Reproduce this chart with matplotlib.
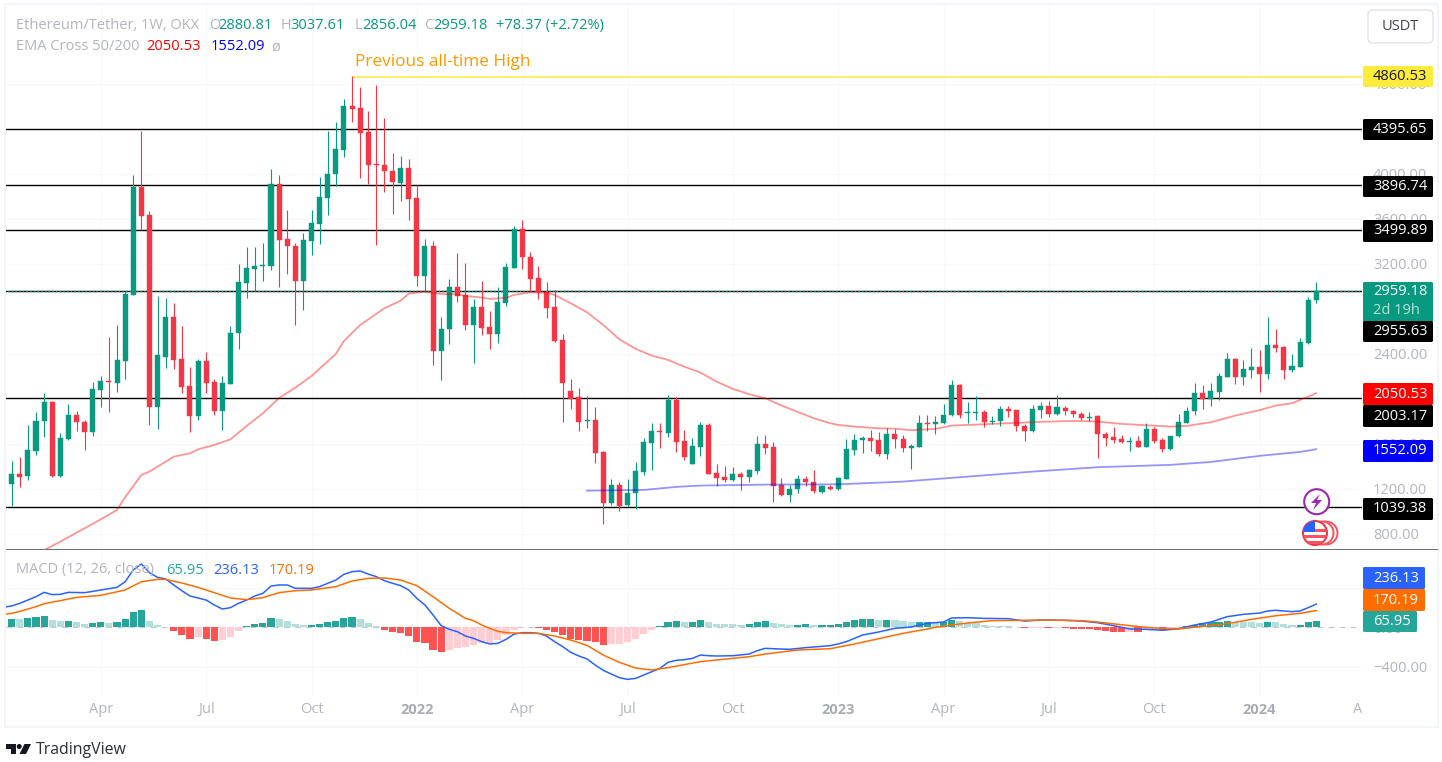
import numpy as np
from matplotlib import pyplot as plt
from matplotlib.patches import Circle, FancyBboxPatch, Polygon, Rectangle
from matplotlib.transforms import Affine2D, Bbox, TransformedBbox

plt.rcParams['font.family'] = ['Open Sans', 'DejaVu Sans']

# --- Weekly candles ---
opens = [
    1243,1329,1317,1539,1803,1969,1314,1646,1859,1797,
    1708,2079,2156,2144,2339,2926,3883,3631,1924,2375,
    2725,2354,2111,1845,2336,2150,1889,2132,2582,3033,
    3157,3184,3184,3913,3418,3362,3050,3403,3557,3788,
    3996,4212,4603,4585,4372,4085,4076,4028,3922,4055,
    3785,3095,3356,2428,2618,2994,2921,2657,2814,2636,
    2574,2855,3167,3507,3261,3072,2953,2814,2524,2067,
    2014,1801,1812,1528,1072,1232,1054,1161,1350,1611,
    1715,1700,1987,1626,1421,1572,1768,1338,1303,1276,
    1329,1303,1359,1596,1569,1235,1143,1196,1285,1264,
    1175,1220,1196,1288,1546,1632,1652,1635,1510,1691,
    1644,1567,1576,1789,1774,1789,1854,2121,1872,1872,
    1881,1795,1801,1913,1899,1759,1715,1902,1940,1863,
    1919,1896,1869,1827,1845,1691,1662,1644,1620,1626,
    1576,1736,1635,1552,1667,1789,1890,2050,2002,2062,
    2198,2358,2195,2260,2281,2225,2482,2465,2257,2284,
    2500,2880.81]
highs = [
    1448,1486,1767,1880,2049,1978,1699,1951,1895,1815,
    2150,2203,2553,2653,2962,3987,4381,3670,2914,2896,
    2852,2645,2283,2354,2419,2173,2203,2645,3196,3347,
    3347,3382,4040,3987,3679,3382,3471,3679,3975,4381,
    4461,4668,4868,4775,4562,4787,4499,4182,4156,4129,
    3904,3418,3400,2728,3065,3294,3205,2885,3048,2781,
    2992,3205,3537,3590,3309,3184,3039,2968,2580,2177,
    2097,2026,1925,1534,1285,1258,1285,1436,1655,1789,
    1789,2032,2020,1726,1652,1798,1783,1421,1404,1395,
    1353,1374,1670,1682,1614,1294,1235,1324,1315,1365,
    1235,1235,1303,1644,1688,1673,1726,1706,1741,1730,
    1679,1599,1854,1860,1851,1952,2168,2130,1970,2023,
    1899,1851,1940,1937,1904,1777,1943,1976,1979,2032,
    1940,1902,1887,1881,1860,1706,1750,1679,1665,1673,
    1789,1747,1650,1673,1869,1925,2142,2124,2142,2227,
    2408,2364,2346,2453,2435,2725,2619,2468,2399,2545,
    2903,3037.61]
lows = [
    1048,1213,1279,1501,1664,1308,1302,1637,1714,1545,
    1670,1930,1886,2058,2176,2923,3504,1770,1735,2277,
    2268,2055,1708,1812,2052,1853,1726,2129,2446,2899,
    2962,3050,3148,2997,3110,2653,2790,3282,3373,3634,
    3892,4150,4461,3966,3913,3365,3839,3643,3759,3590,
    3006,2947,2301,2168,2485,2861,2612,2316,2565,2447,
    2500,2826,3164,3152,2962,2888,2719,2509,1798,1907,
    1712,1744,1430,891,1057,1006,1048,1018,1324,1368,
    1566,1664,1531,1457,1418,1495,1329,1226,1258,1267,
    1187,1258,1332,1513,1081,1140,1081,1161,1226,1161,
    1161,1190,1193,1285,1501,1522,1540,1492,1469,1567,
    1531,1377,1573,1715,1691,1774,1851,1833,1789,1816,
    1747,1777,1762,1842,1718,1626,1709,1827,1836,1854,
    1854,1836,1810,1804,1475,1585,1611,1611,1540,1576,
    1573,1611,1528,1546,1665,1783,1854,1907,1934,1990,
    2195,2133,2124,2189,2062,2180,2420,2177,2242,2281,
    2485,2856.04]
closes = [
    1329,1305,1542,1806,1969,1314,1652,1859,1791,1708,
    2085,2156,2150,2345,2932,3883,3628,1924,2390,2725,
    2348,2108,1845,2339,2144,1889,2138,2588,3039,3163,
    3181,3190,3913,3412,3359,3050,3409,3560,3794,4002,
    4218,4603,4579,4366,4076,4079,4022,3925,4055,3779,
    3095,3356,2428,2624,2994,2917,2657,2814,2630,2574,
    2858,3175,3507,3258,3069,2950,2811,2512,2144,2002,
    1798,1812,1522,1072,1232,1051,1166,1356,1617,1715,
    1703,1987,1620,1484,1581,1768,1332,1297,1276,1329,
    1306,1365,1596,1566,1226,1143,1202,1285,1258,1178,
    1223,1196,1294,1552,1632,1652,1629,1510,1688,1641,
    1567,1582,1789,1780,1798,1860,2121,1857,1881,1881,
    1798,1807,1913,1893,1756,1718,1907,1940,1863,1925,
    1893,1866,1827,1839,1685,1656,1638,1620,1626,1576,
    1736,1626,1555,1670,1795,1896,2050,2002,2067,2204,
    2358,2195,2266,2281,2225,2482,2456,2260,2290,2509,
    2880.81,2959.18]

# --- EMA 50 / 200 ---
ema50_idx = [
    4,6,8,9,11,13,14,16,17,19,20,22,23,25,27,29,31,33,35,37,40,41,43,46,48,49,51,53,55,
    56,58,59,61,62,64,66,67,69,71,73,75,77,79,81,83,85,87,89,91,93,95,97,99,101,102,104,107,109,
    111,114,116,119,123,127,131,134,137,140,143,145,148,151,154,156,158,160,161]
ema50 = [
    656,730,810,849,929,1012,1125,1323,1353,1442,1486,1516,1551,1590,1640,1759,1871,2007,2099,2203,
    2399,2514,2656,2805,2873,2935,2953,2932,2929,
    2915,2900,2888,2897,2924,2947,2944,2924,2849,2769,2657,2529,2444,2384,2346,2286,2233,2153,2088,
    2041,2005,1940,1884,1827,1783,1768,1753,1738,1735,
    1721,1733,1762,1771,1783,1795,1804,1798,1777,1765,1753,1759,1792,1851,1899,1940,1961,2020,2050.53]
ema200_idx = [71,78,82,85,94,102,110,111,117,126,134,143,148,154,159,161]
ema200 = [1184,1190,1217,1229,1238,1240,1264,1270,1303,1353,1392,1413,1439,1493,1528,1552.09]

# --- Niveles dibujados ---
levels = [4395.65, 3896.74, 3499.89, 2955.63, 2003.17, 1039.38]
ath = 4860.53
ath_start = 42
last_close = 2959.18
price_ticks = [800, 1200, 1600, 2400, 3200, 3600, 4000, 4800]

# --- MACD ---
hist = [
    85,82,95,105,115,74,64,66,54,34,
    44,54,44,54,85,156,176,64,24,3,
    -37,-78,-122,-101,-122,-139,-129,-101,-37,14,
    34,44,95,85,64,34,24,27,34,54,
    64,95,105,85,44,14,-27,-47,-58,-88,
    -152,-162,-233,-254,-233,-213,-203,-179,-162,-160,
    -129,-78,-27,3,7,-7,-27,-47,-78,-118,
    -129,-139,-152,-179,-173,-170,-152,-122,-68,-27,
    10,51,64,54,56,74,54,34,33,32,
    24,34,54,64,44,34,24,25,34,24,
    25,26,34,54,74,85,86,74,76,74,
    64,54,55,56,54,55,74,64,44,43,
    24,14,13,12,3,-10,-8,-3,-7,-6,
    -7,-17,-18,-19,-27,-37,-50,-51,-44,-51,
    -27,-20,-27,-17,-7,14,24,44,54,55,
    64,54,53,52,44,54,53,34,24,25,
    54,65.95]
macd_idx = [
    -1,0,1,3,4,5,6,7,9,10,11,13,14,15,16,17,18,19,20,21,22,23,24,25,26,27,28,29,30,31,32,33,34,35,37,38,39,
    40,41,42,43,44,45,46,47,48,49,50,51,52,53,54,55,56,57,
    58,59,60,61,62,63,64,65,66,67,68,69,70,71,72,73,74,75,76,77,78,79,80,81,82,83,84,85,86,87,89,91,92,93,94,
    96,98,101,102,103,105,107,109,111,113,
    115,116,118,120,123,125,127,130,132,134,136,138,140,142,144,146,148,150,152,154,155,156,158,159,160,161]
macd = [
    205,217,244,311,355,332,335,355,352,365,379,406,463,582,643,555,507,491,430,372,318,298,277,227,186,200,244,
    277,318,345,419,430,430,396,396,413,447,
    480,538,565,572,541,514,474,447,423,379,294,227,125,17,-20,-44,-88,-112,
    -145,-169,-162,-122,-68,-54,-54,-61,-88,-145,-196,-254,-291,-321,-382,-436,-474,-511,-528,-518,-484,-450,
    -416,-355,-335,-328,-315,-281,-288,-291,-288,-271,-237,-213,-217,
    -223,-206,-186,-169,-145,-78,-47,-10,3,41,
    54,95,98,91,88,64,74,71,64,47,17,-17,-20,-30,-14,24,54,108,132,145,166,173,159,166,200,236.13]
signal_idx = [
    -1,0,1,3,4,6,8,11,14,16,18,19,21,23,25,27,29,31,33,35,37,40,42,44,46,48,50,52,54,56,
    57,58,59,60,61,63,65,67,69,71,73,75,77,79,81,85,91,93,97,101,104,107,110,113,
    114,116,118,121,124,128,132,134,138,141,144,147,150,153,156,159,161]
signal = [
    132,142,162,210,240,271,304,325,379,463,487,487,450,406,352,298,281,301,352,372,379,413,470,497,501,480,423,311,193,91,
    68,24,-10,-41,-54,-61,-61,-88,-129,-183,-281,-355,-413,-433,-409,-348,-298,-271,-230,-217,-169,-115,-61,-17,
    0,24,44,68,71,74,68,54,17,-7,-17,10,37,81,118,142,170.19]
macd_ticks = [-400, 0, 400]

# Meses y años del eje de tiempo
time_idx = [11, 24, 37, 50, 63, 76, 89, 102, 115, 128, 141, 154, 167]
time_labels = ['Apr', 'Jul', 'Oct', '2022', 'Apr', 'Jul', 'Oct', '2023', 'Apr', 'Jul', 'Oct', '2024', 'Apr']

# --- Colores ---
UP = '#089981'
DOWN = '#f23645'
GREY = '#b2b5be'
BLUE = '#2962ff'
ORANGE = '#ff6d00'
TEAL = '#26a69a'
FS = 10.5

W, H = 1442, 762
fig = plt.figure(figsize=(W / 100, H / 100), dpi=100)
px = Affine2D().scale(1, -1).translate(0, H)  # pixeles de imagen, origen arriba


def box(x0, y0, x1, y1):
    return [x0 / W, 1 - y1 / H, (x1 - x0) / W, (y1 - y0) / H]


ax = fig.add_axes(box(6, 5, 1362, 549))
ax2 = fig.add_axes(box(6, 550, 1362, 697))
for a in (ax, ax2):
    a.set_xlim(-0.703, 166.64)
    a.set_frame_on(False)
    a.yaxis.tick_right()
    a.set_xticks(time_idx[:-1])
    a.tick_params(length=0, labelbottom=False, labelright=True, labelcolor=GREY, labelsize=FS, pad=7.9)
    a.grid(color='#f8f8fa', lw=0.8, zorder=0)
    a.set_axisbelow(True)

ax.set_ylim(665, 5501)
ax.set_yticks(price_ticks)
ax.set_yticklabels([f'{p:.2f}' for p in price_ticks])

# --- Velas ---
x = np.arange(len(closes))
o, h, l, c = map(np.array, (opens, highs, lows, closes))
up = c >= o
for mask, col in ((up, UP), (~up, DOWN)):
    ax.vlines(x[mask], l[mask], h[mask], color=col, lw=0.8, zorder=2)
    ax.bar(x[mask], (c - o)[mask], bottom=o[mask], width=0.62, color=col, edgecolor=col, lw=0.3, zorder=2.5)

# Niveles
ax.hlines(levels, -1, 170, color='black', lw=1.0, zorder=1)
ax.hlines(ath, ath_start, 170, color='#ffeb3b', lw=1.1, zorder=1)
ax.hlines(last_close, -1, 170, color=UP, lw=1, linestyles=':', zorder=1.5)

# EMA
ax.plot(ema50_idx, ema50, color='#ff0000', alpha=0.42, lw=1.3, zorder=3)
ax.plot(ema200_idx, ema200, color='#0000ff', alpha=0.42, lw=1.3, zorder=3)

# --- MACD ---
ax2.set_ylim(-707, 785)
ax2.set_yticks(macd_ticks)
ax2.set_yticklabels([f'{t:.2f}'.replace('-', '\u2212') for t in macd_ticks])
hist_colors = []
for i, v in enumerate(hist):
    prev = hist[i - 1] if i else v - 1
    if v >= 0:
        hist_colors.append(TEAL if v > prev else '#b2dfdb')
    else:
        hist_colors.append('#ff5252' if v < prev else '#ffcdd2')
ax2.axhline(0, color='#c4c7ce', lw=0.8, ls=(0, (5, 5)), zorder=1)
ax2.bar(x, hist, width=0.88, color=hist_colors, zorder=2)
ax2.plot(macd_idx, macd, color=BLUE, lw=1.1, zorder=3)
ax2.plot(signal_idx, signal, color=ORANGE, lw=1.1, zorder=3)

# Eje de tiempo, el último Apr queda cortado en el borde
clip = TransformedBbox(Bbox([[0, 0], [1362, H]]), Affine2D())
for i, lab in zip(time_idx, time_labels):
    bold = lab.isdigit()
    t = ax2.text(i, -0.088, lab, transform=ax2.get_xaxis_transform(), ha='center', va='center',
                 color='#a9acb6' if bold else GREY, size=FS, fontweight='bold' if bold else 'normal', clip_on=True)
    t.set_clip_box(clip)


# --- Marco y etiquetas ---
def text(x0, y0, s, color=GREY, size=FS, **kw):
    fig.text(x0, y0, s, transform=px, color=color, size=size, va='center', **kw)


def tag(s, y0, y1, face, color='white', x1=1433):
    fig.add_artist(FancyBboxPatch((1363, y0), x1 - 1363, y1 - y0, boxstyle='round,pad=0,rounding_size=1.5',
                                  transform=px, fc=face, ec='none', zorder=2))
    if s:
        text(1373, (y0 + y1) / 2, s, color=color)


fig.add_artist(Rectangle((5, 4), 1433, 723, transform=px, fill=False, ec='#f0f3fa', lw=1.2, zorder=1))
fig.add_artist(Rectangle((6, 548.6), 1432, 0.9, transform=px, fc='#6f717a', ec='none', zorder=1))

tag('4860.53', 66, 87, '#ffeb3b', color='#131722')
tag('4395.65', 119, 140, 'black')
tag('3896.74', 176, 197, 'black')
tag('3499.89', 220, 242, 'black')
tag('', 282, 322, UP)
text(1373, 291.5, '2959.18', color='white')
text(1373, 311, '2d 19h', color='#b6e2d8')
tag('2955.63', 321, 342, 'black')
tag('2050.53', 383, 405, '#ff0000')
tag('2003.17', 405, 427, 'black')
tag('1552.09', 440, 462, '#0000ff')
tag('1039.38', 498, 520, 'black')
tag('236.13', 567, 589, BLUE, x1=1425)
tag('170.19', 589, 611, ORANGE, x1=1425)
tag('65.95', 611, 632, TEAL, x1=1417)

# Boton de la moneda
fig.add_artist(FancyBboxPatch((1368, 10), 65, 33, boxstyle='round,pad=0,rounding_size=5',
                              transform=px, fc='white', ec='#e0e3eb', lw=1, zorder=1))
text(1400.5, 26.5, 'USDT', color='#434651', ha='center')

# Leyendas
text(16, 25.5, 'Ethereum/Tether, 1W, OKX')
for lab, xl, val, xv in (('O', 209, '2880.81', 218), ('H', 281, '3037.61', 290),
                         ('L', 355, '2856.04', 362), ('C', 424, '2959.18', 433)):
    text(xl, 25.5, lab)
    text(xv, 25.5, val, color=UP)
text(496, 25.5, '+78.37 (+2.72%)', color=UP)
text(16, 47, 'EMA Cross 50/200')
text(146, 47, '2050.53', color='#ff0000')
text(211, 47, '1552.09', color='#0000ff')
text(271, 47, '\u00f8')
text(355, 62.5, 'Previous all-time High', color='#ff9800', size=12.4)
text(16, 570, 'MACD (12, 26, close)')
text(166, 570, '65.95', color=TEAL)
text(213, 570, '236.13', color=BLUE)
text(269, 570, '170.19', color=ORANGE)

# Iconos sobre la escala
fig.add_artist(Circle((1316.7, 501.7), 12.5, transform=px, fc='white', ec='#9c27b0', lw=1.5, zorder=2))
fig.add_artist(Polygon([(1320, 494), (1311, 503), (1316, 503), (1313, 510), (1322, 500), (1317, 500)],
                       transform=px, fc='#9c27b0', ec='none', zorder=2))
fig.add_artist(Circle((1326, 533), 11.5, transform=px, fc='white', ec='#f7525f', lw=1.4, zorder=2))
fig.add_artist(Circle((1322, 533), 11.5, transform=px, fc='white', ec='#f7525f', lw=1.4, zorder=2))
flag = Circle((1315, 533), 12, transform=px, fc='white', ec='#f23645', lw=1.5, zorder=2)
fig.add_artist(flag)
for y0 in (529, 535, 541):
    stripe = Rectangle((1303, y0), 24, 3, transform=px, fc='#f7525f', ec='none', zorder=2.1)
    fig.add_artist(stripe)
    stripe.set_clip_path(flag)
canton = Rectangle((1303, 521), 12, 11, transform=px, fc='#2962ff', ec='none', zorder=2.2)
fig.add_artist(canton)
canton.set_clip_path(flag)

# Logo de TradingView
fig.add_artist(Polygon([(6, 744), (16, 744), (16, 754), (11, 754), (11, 749), (6, 749)],
                       transform=px, fc='#131722', ec='none', zorder=2))
fig.add_artist(Circle((19.2, 746.5), 2.5, transform=px, fc='#131722', ec='none', zorder=2))
fig.add_artist(Polygon([(24.5, 744), (31, 744), (26, 754), (19.5, 754)],
                       transform=px, fc='#131722', ec='none', zorder=2))
text(36, 749.5, 'TradingView', color='#2a2e39', size=11.4)

fig.savefig('out.png', dpi=100)
